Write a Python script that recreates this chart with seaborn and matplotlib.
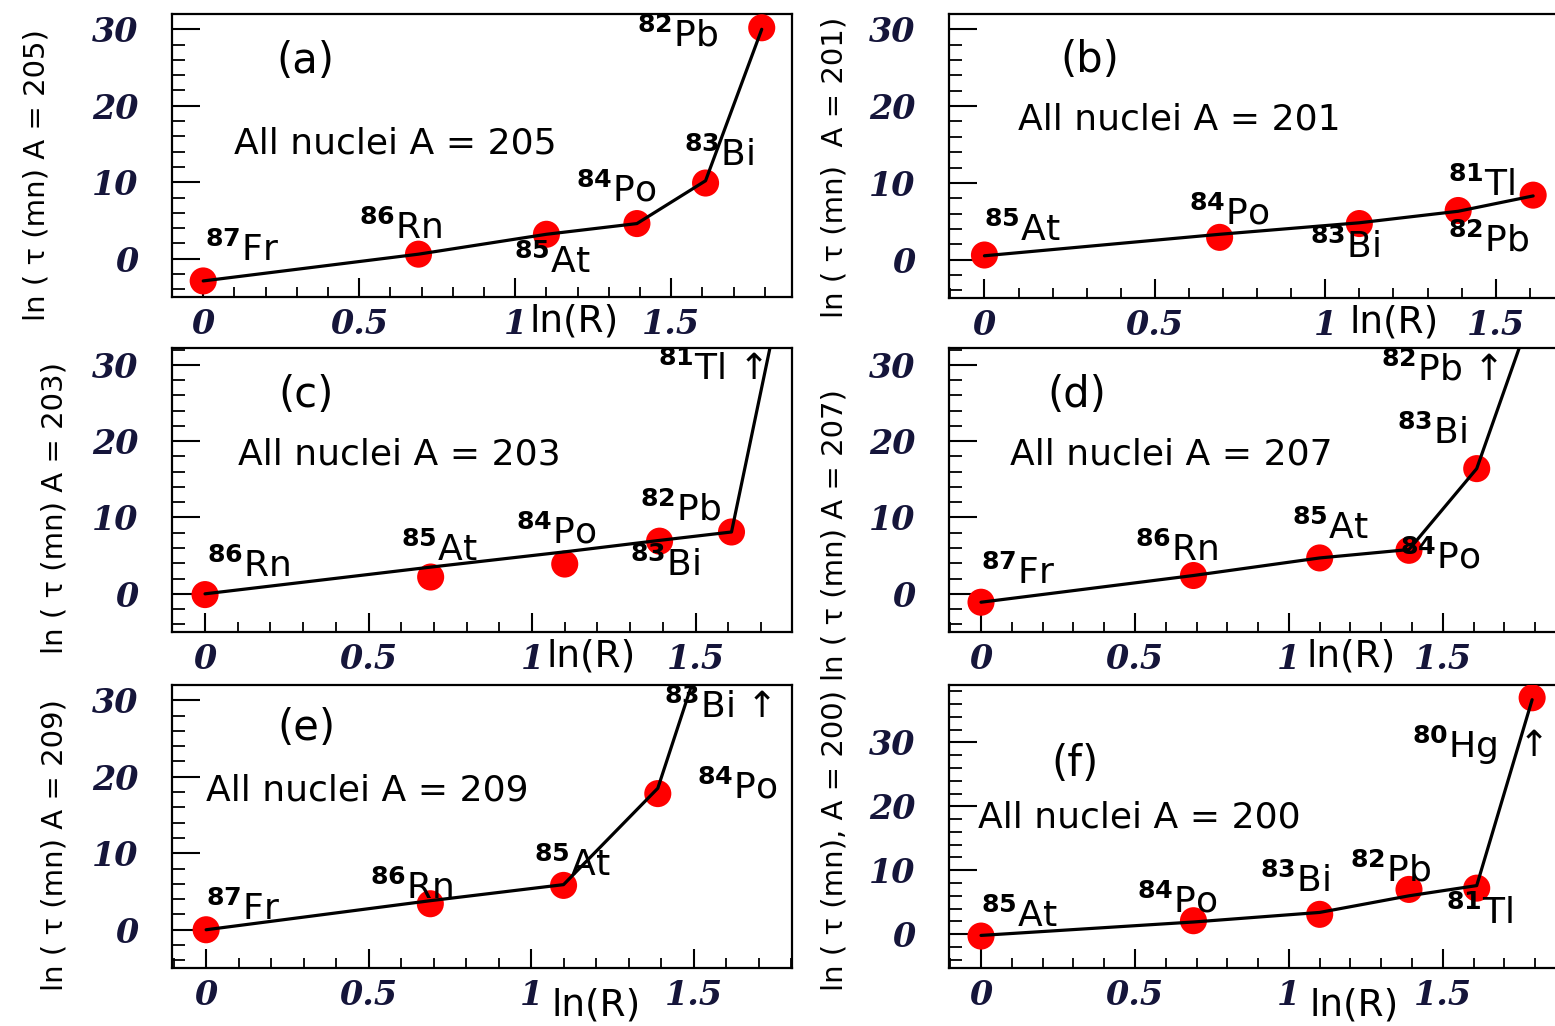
import numpy as np
import pandas as pd
import matplotlib
matplotlib.use("Agg")
import matplotlib.pyplot as plt
import seaborn as sns
from matplotlib.ticker import MultipleLocator

sns.set_theme(style="white")
plt.rcParams['font.family'] = ['DejaVu Sans']
plt.rcParams['mathtext.fontset'] = 'dejavusans'
plt.rcParams['text.color'] = 'black'
plt.rcParams['axes.labelcolor'] = 'black'

# ---------------- data ----------------
ln_r = [0.0, 0.69, 1.10, 1.39, 1.61, 1.79]

a_pts = [-2.9, 0.6, 3.2, 4.6, 9.9, 30.2]
a_line = [-2.9, 0.6, 3.2, 4.6, 10.2, 30.0]

b_pts = [0.6, 2.9, 4.7, 6.4, 8.4]
b_line = [0.5, 3.3, 4.8, 6.3, 8.3]

c_pts = [-0.1, 2.2, 3.9, 6.9, 8.1]
c_line = [0.0, 3.5, 5.5, 7.0, 8.1, 45.0]

d_pts = [-1.1, 2.4, 4.7, 5.7, 16.4]
d_line = [-1.1, 2.4, 4.7, 5.8, 16.4, 37.0]

e_pts = [0.0, 3.4, 5.8, 17.8]
e_line = [0.0, 3.8, 5.9, 18.5, 47.0]

f_pts = [-0.3, 2.1, 3.1, 7.0, 7.2, 37.0]
f_line = [-0.2, 1.9, 3.4, 6.0, 7.6, 36.7]

y_titles = ["ln ( \u03c4 (mn) A = 205)", "ln ( \u03c4 (mn)  A = 201)",
            "ln ( \u03c4 (mn) A = 203)", "ln ( \u03c4 (mn) A = 207)",
            "ln ( \u03c4 (mn) A = 209)", "ln ( \u03c4 (mn), A = 200)"]
panel_tags = ["(a)", "(b)", "(c)", "(d)", "(e)", "(f)"]
group_texts = ["All nuclei A = 205", "All nuclei A = 201", "All nuclei A = 203",
               "All nuclei A = 207", "All nuclei A = 209", "All nuclei A = 200"]
x_tick_vals = [0, 0.5, 1, 1.5]
x_tick_labels = ["0", "0.5", "1", "1.5"]
y_tick_vals = [0, 10, 20, 30]
y_tick_labels = ["0", "10", "20", "30"]


def iso(z, sym):
    return r"$^{\mathbf{" + z + r"}}$" + sym

# nuclide labels: (text, x, y) placed in data coordinates
a_labels = [(iso("82", "Pb"), 1.39, 29.2), (iso("83", "Bi"), 1.54, 13.6),
            (iso("84", "Po"), 1.195, 9.0), (iso("85", "At"), 0.995, -0.4),
            (iso("86", "Rn"), 0.50, 4.0), (iso("87", "Fr"), 0.005, 1.2)]
b_labels = [(iso("85", "At"), 0.0, 3.9), (iso("84", "Po"), 0.60, 6.0),
            (iso("83", "Bi"), 0.955, 1.7), (iso("82", "Pb"), 1.36, 2.5),
            (iso("81", "Tl"), 1.36, 9.7)]
c_labels = [(iso("81", "Tl") + " \u2191", 1.385, 29.4), (iso("82", "Pb"), 1.33, 11.0),
            (iso("83", "Bi"), 1.30, 3.8), (iso("84", "Po"), 0.95, 8.0),
            (iso("85", "At"), 0.60, 5.8), (iso("86", "Rn"), 0.006, 3.7)]
d_labels = [(iso("82", "Pb") + " \u2191", 1.30, 29.4), (iso("83", "Bi"), 1.35, 21.1),
            (iso("85", "At"), 1.01, 8.6), (iso("84", "Po"), 1.36, 4.8),
            (iso("86", "Rn"), 0.50, 5.8), (iso("87", "Fr"), 0.0, 2.8)]
e_labels = [(iso("83", "Bi") + " \u2191", 1.41, 29.2), (iso("84", "Po"), 1.51, 18.6),
            (iso("85", "At"), 1.01, 8.5), (iso("86", "Rn"), 0.505, 5.5),
            (iso("87", "Fr"), 0.0, 2.7)]
f_labels = [(iso("80", "Hg"), 1.40, 29.5), ("\u2191", 1.745, 29.5),
            (iso("82", "Pb"), 1.20, 9.9), (iso("83", "Bi"), 0.905, 8.3),
            (iso("81", "Tl"), 1.51, 3.3), (iso("84", "Po"), 0.505, 5.2),
            (iso("85", "At"), 0.0, 2.8)]

# ---------------- layout ----------------
W, H = 1555, 1026
fig = plt.figure(figsize=(W / 100, H / 100), dpi=100)
fig.patch.set_facecolor("white")


def add_ax(l, t, w, h):
    return fig.add_axes([l / W, 1 - (t + h) / H, w / W, h / H])

panels = [
    dict(rect=(172, 14, 620, 283), xlim=(-0.1, 1.887), ylim=(-5, 32),
         pts=a_pts, line=a_line, labels=a_labels, ylab=(-0.218, 0.431), xlab=(0.648, -0.088),
         tag=(0.327, 25.9), group=(0.10, 15.1)),
    dict(rect=(949, 14, 683, 284), xlim=(-0.104, 1.9), ylim=(-5, 32),
         pts=b_pts, line=b_line, labels=b_labels, ylab=(-0.167, 0.46), xlab=(0.652, -0.088),
         tag=(0.31, 26.0), group=(0.098, 18.2)),
    dict(rect=(172, 348, 620, 284), xlim=(-0.101, 1.795), ylim=(-5, 32.2),
         pts=c_pts, line=c_line, labels=c_labels, ylab=(-0.189, 0.437), xlab=(0.676, -0.088),
         tag=(0.31, 26.1), group=(0.10, 18.2)),
    dict(rect=(949, 348, 617, 284), xlim=(-0.104, 1.9), ylim=(-5, 32.2),
         pts=d_pts, line=d_line, labels=d_labels, ylab=(-0.185, 0.342), xlab=(0.652, -0.088),
         tag=(0.31, 26.1), group=(0.094, 18.2)),
    dict(rect=(172, 685, 620, 283), xlim=(-0.105, 1.803), ylim=(-5, 32),
         pts=e_pts, line=e_line, labels=e_labels, ylab=(-0.189, 0.435), xlab=(0.684, -0.131),
         tag=(0.31, 26.4), group=(0.0, 18.2)),
    dict(rect=(949, 685, 617, 283), xlim=(-0.104, 1.9), ylim=(-5.3, 39),
         pts=f_pts, line=f_line, labels=f_labels, ylab=(-0.185, 0.452), xlab=(0.656, -0.131),
         tag=(0.305, 26.7), group=(-0.01, 18.2)),
]

tick_color = "#15153a"

for i, p in enumerate(panels):
    ax = add_ax(*p["rect"])
    ax.set_facecolor("white")
    pts_df = pd.DataFrame({"lnR": ln_r[:len(p["pts"])], "val": p["pts"]})
    line_df = pd.DataFrame({"lnR": ln_r[:len(p["line"])], "val": p["line"]})
    sns.scatterplot(data=pts_df, x="lnR", y="val", ax=ax, color="#ff0000",
                    s=380, edgecolor="none", linewidth=0, zorder=3)
    sns.lineplot(data=line_df, x="lnR", y="val", ax=ax, color="black", lw=2.3,
                 sort=False, estimator=None, zorder=4)
    ax.set_xlim(*p["xlim"])
    ax.set_ylim(*p["ylim"])

    for s in ax.spines.values():
        s.set_visible(True)
        s.set_color("black")
        s.set_linewidth(1.6)

    ax.set_xticks(x_tick_vals, x_tick_labels)
    ax.set_yticks(y_tick_vals, y_tick_labels)
    ax.xaxis.set_minor_locator(MultipleLocator(0.1))
    ax.yaxis.set_minor_locator(MultipleLocator(2))
    ax.tick_params(axis="y", which="major", direction="in", length=20, width=1.5,
                   left=True, right=False, pad=24, labelsize=24, labelcolor=tick_color,
                   color="black")
    ax.tick_params(axis="y", which="minor", direction="in", length=9.5, width=1.3,
                   left=True, right=False, color="black")
    ax.tick_params(axis="x", which="major", direction="in", length=14, width=1.5,
                   bottom=True, top=False, pad=8, labelsize=24, labelcolor=tick_color,
                   color="black")
    ax.tick_params(axis="x", which="minor", direction="in", length=7, width=1.3,
                   bottom=True, top=False, color="black")
    for lbl in ax.get_xticklabels() + ax.get_yticklabels():
        lbl.set_fontfamily("DejaVu Serif")
        lbl.set_fontstyle("italic")
        lbl.set_fontweight("bold")
    ax.grid(False)

    ax.set_ylabel(y_titles[i], fontsize=21, color="black")
    ax.yaxis.set_label_coords(*p["ylab"])
    ax.yaxis.label.set_verticalalignment("center")
    ax.set_xlabel("ln(R)", fontsize=27, color="black")
    ax.xaxis.set_label_coords(*p["xlab"])
    ax.xaxis.label.set_verticalalignment("center")

    ax.text(p["tag"][0], p["tag"][1], panel_tags[i], fontsize=30, ha="center",
            va="center", color="black")
    ax.text(p["group"][0], p["group"][1], group_texts[i], fontsize=26, ha="left",
            va="center", color="black")
    for txt, lx, ly in p["labels"]:
        ax.text(lx, ly, txt, fontsize=26, ha="left", va="center", zorder=5, color="black")

fig.savefig("out.png", dpi=100, facecolor="white")
